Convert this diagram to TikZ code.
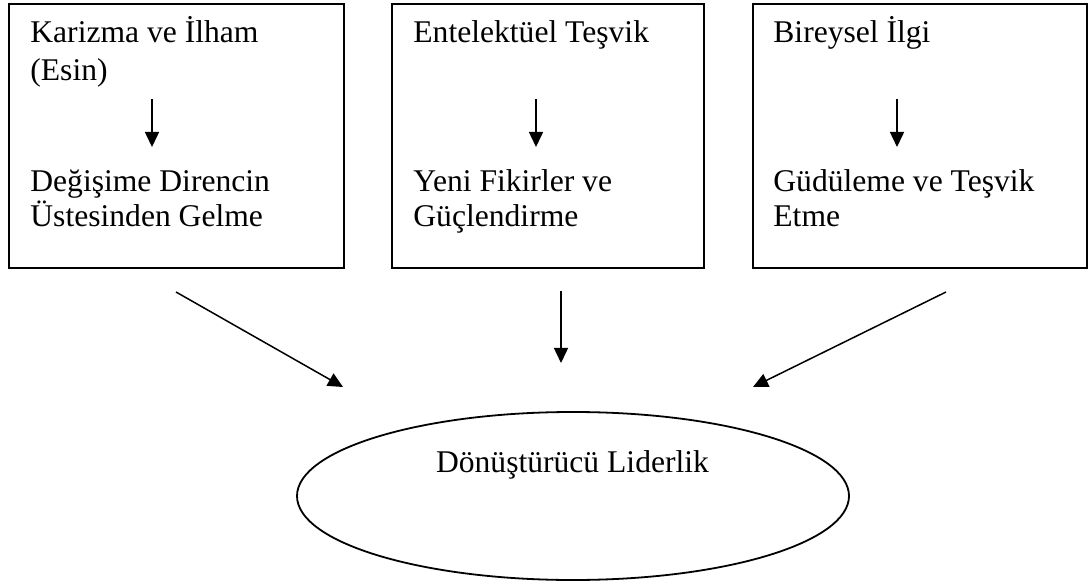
\documentclass[tikz,border=0pt]{standalone}
\usepackage{fontspec}
\setmainfont{Liberation Serif}
\usetikzlibrary{arrows.meta,shapes.geometric}
\begin{document}
\begin{tikzpicture}[x=0.5pt,y=-0.5pt,
  boxstyle/.style={draw, line width=1pt, inner sep=0pt, outer sep=0pt, anchor=north west},
  lbl/.style={anchor=base west, inner sep=0pt, font=\fontsize{15.8}{19}\selectfont},
  arr/.style={line width=0.75pt, -{Triangle[length=7.5pt,width=7pt]}},
  ellstyle/.style={draw, ellipse, line width=0.9pt, inner sep=0pt, minimum width=276pt, minimum height=84pt}]
\useasboundingbox (0,0) rectangle (1091,587);
% boxes
\node[boxstyle, minimum width=167.5pt, minimum height=132pt] (b1) at (9,4) {};
\node[boxstyle, minimum width=156pt, minimum height=132pt] (b2) at (392,4) {};
\node[boxstyle, minimum width=167pt, minimum height=132pt] (b3) at (753,4) {};
% box 1 texts
\node[lbl] (t1a) at (30,43) {Karizma ve İlham};
\node[lbl] (t1b) at (30,81) {(Esin)};
\node[lbl] (t1c) at (30,192) {Değişime Direncin};
\node[lbl] (t1d) at (30,227) {Üstesinden Gelme};
% box 2 texts
\node[lbl] (t2a) at (413,43) {Entelektüel Teşvik};
\node[lbl] (t2c) at (413,192) {Yeni Fikirler ve};
\node[lbl] (t2d) at (413,227) {Güçlendirme};
% box 3 texts
\node[lbl] (t3a) at (773,43) {Bireysel İlgi};
\node[lbl] (t3c) at (773,192) {Güdüleme ve Teşvik};
\node[lbl] (t3d) at (773,227) {Etme};
% inner arrows
\coordinate (a1s) at (152,99);  \coordinate (a1e) at (152,147);
\coordinate (a2s) at (536,99);  \coordinate (a2e) at (536,147);
\coordinate (a3s) at (897,99);  \coordinate (a3e) at (897,147);
\draw[arr] (a1s) -- (a1e);
\draw[arr] (a2s) -- (a2e);
\draw[arr] (a3s) -- (a3e);
% ellipse
\node[ellstyle] (lead) at (573,496) {};
\node[lbl, anchor=base] (leadtxt) at (572.5,472) {Dönüştürücü Liderlik};
% lower arrows
\coordinate (l1s) at (176,292); \coordinate (l1e) at (343,387);
\coordinate (l2s) at (561,291); \coordinate (l2e) at (561,363);
\coordinate (l3s) at (946,292); \coordinate (l3e) at (753,387);
\draw[arr] (l1s) -- (l1e);
\draw[arr] (l2s) -- (l2e);
\draw[arr] (l3s) -- (l3e);
\end{tikzpicture}
\end{document}
